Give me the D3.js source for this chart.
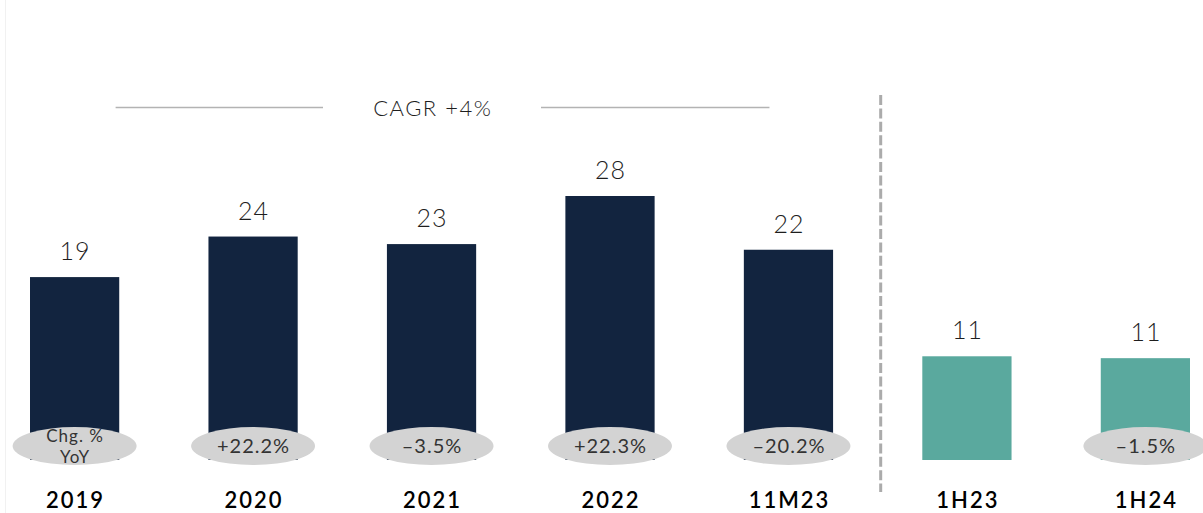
<!DOCTYPE html>
<html>
<head>
<meta charset="utf-8">
<script src="https://cdn.jsdelivr.net/npm/d3@7"></script>
<style>
  html, body { margin: 0; padding: 0; background: #fff; }
  svg { display: block; }
  text { font-family: Lato, "Open Sans", sans-serif; }
</style>
</head>
<body>
<svg id="chart" width="1203" height="513"></svg>
<script>
// Periods shown along the bottom
const categories = ["2019", "2020", "2021", "2022", "11M23", "1H23", "1H24"];
// Values (full-year / year-to-date on the left, half-year on the right)
const values = [19.4, 23.7, 22.9, 28.0, 22.3, 11.0, 10.8];
// Year-on-year change shown in the grey ovals (null = no oval value)
const yoyChange = [null, 22.2, -3.5, 22.3, -20.2, null, -1.5];
// Which bars belong to the half-year comparison group
const halfYear = ["1H23", "1H24"];
const cagrLabel = "CAGR +4%";
const yoyHeader = ["Chg. %", "YoY"];

const svg = d3.select("#chart");
const W = 1203, H = 513;
const baseline = 460;

const x = d3.scaleBand()
  .domain(categories)
  .range([30, 1190])
  .paddingInner(0.5)
  .paddingOuter(0);

const y = d3.scaleLinear()
  .domain([0, 28])
  .range([baseline, 196]);

const bw = x.bandwidth();
const cx = c => x(c) + bw / 2;

// faint frame line on the left edge
svg.append("line")
  .attr("x1", 5.5).attr("x2", 5.5).attr("y1", 0).attr("y2", H)
  .attr("stroke", "#f1f1f1").attr("stroke-width", 1);

const data = categories.map((c, i) => ({ c, v: values[i], yoy: yoyChange[i], i }));

// bars
svg.append("g").selectAll("rect")
  .data(data).join("rect")
  .attr("x", d => x(d.c))
  .attr("y", d => y(d.v))
  .attr("width", bw)
  .attr("height", d => y(0) - y(d.v))
  .attr("fill", d => halfYear.includes(d.c) ? "#5aa99e" : "#12243f");

// value labels above bars
svg.append("g").selectAll("text")
  .data(data).join("text")
  .attr("x", d => cx(d.c) + 0.5)
  .attr("y", d => y(d.v) - 17)
  .attr("text-anchor", "middle")
  .attr("font-size", 25)
  .attr("font-weight", 300)
  .attr("letter-spacing", 1)
  .attr("fill", "#1e1e1e")
  .text(d => d3.format(".0f")(d.v));

// year-on-year ovals
const ovals = data.filter(d => d.yoy !== null || d.i === 0);
const og = svg.append("g");
og.selectAll("ellipse")
  .data(ovals).join("ellipse")
  .attr("cx", d => cx(d.c))
  .attr("cy", 446)
  .attr("rx", 62)
  .attr("ry", 19)
  .attr("fill", "#d3d3d3");

const fmtPct = v => (v > 0 ? "+" : "\u2013") + Math.abs(v).toFixed(1) + "%";
og.selectAll("text.pct")
  .data(data.filter(d => d.yoy !== null)).join("text")
  .attr("class", "pct")
  .attr("x", d => cx(d.c) + 0.5)
  .attr("y", 453)
  .attr("text-anchor", "middle")
  .attr("font-size", 20)
  .attr("letter-spacing", 1)
  .attr("fill", "#333")
  .text(d => fmtPct(d.yoy));

og.selectAll("text.hdr")
  .data(yoyHeader).join("text")
  .attr("class", "hdr")
  .attr("x", cx(categories[0]) + 0.5)
  .attr("y", (d, i) => 442 + i * 21)
  .attr("text-anchor", "middle")
  .attr("font-size", 17)
  .attr("letter-spacing", 1)
  .attr("fill", "#333")
  .text(d => d);

// category labels
svg.append("g").selectAll("text")
  .data(categories).join("text")
  .attr("x", d => cx(d) + 1)
  .attr("y", 508)
  .attr("text-anchor", "middle")
  .attr("font-size", 22)
  .attr("font-weight", 600)
  .attr("letter-spacing", 2)
  .attr("fill", "#000")
  .text(d => d);

// dashed separator between the annual and half-year groups
const sepX = (x("11M23") + bw + x("1H23")) / 2 + 3;
svg.append("line")
  .attr("x1", sepX).attr("x2", sepX)
  .attr("y1", 95).attr("y2", 492)
  .attr("stroke", "#ababab")
  .attr("stroke-width", 3)
  .attr("stroke-dasharray", "10,3.4");

// CAGR bracket line with label
const cagrY = 107.5;
const cagrMid = 432;
const cagrL = cx("2019") + 41;
const cagrR = cx("11M23") - 19;
svg.append("line")
  .attr("x1", cagrL).attr("x2", 323).attr("y1", cagrY).attr("y2", cagrY)
  .attr("stroke", "#b3b3b3").attr("stroke-width", 1.5);
svg.append("line")
  .attr("x1", 541).attr("x2", cagrR).attr("y1", cagrY).attr("y2", cagrY)
  .attr("stroke", "#b3b3b3").attr("stroke-width", 1.5);
svg.append("text")
  .attr("x", cagrMid + 0.75).attr("y", 116)
  .attr("text-anchor", "middle")
  .attr("font-size", 22)
  .attr("font-weight", 300)
  .attr("letter-spacing", 1.5)
  .attr("fill", "#1e1e1e")
  .text(cagrLabel);
</script>
</body>
</html>
